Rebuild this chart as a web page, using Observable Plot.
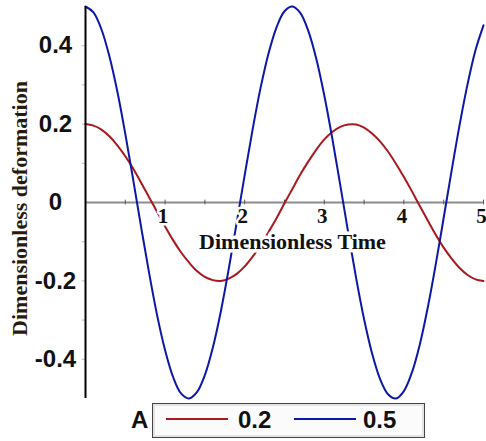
<!DOCTYPE html>
<html>
<head>
<meta charset="utf-8">
<script src="https://cdn.jsdelivr.net/npm/d3@7"></script>
<script src="https://cdn.jsdelivr.net/npm/@observablehq/plot@0.6"></script>
<style>
  body { margin: 0; background: #fff; }
  #chart { width: 486px; }
  .legend { position: relative; width: 486px; height: 41px; font-family: "Liberation Sans", Arial, sans-serif; font-weight: bold; }
  .legend .title { position: absolute; left: 131px; top: 6px; font-size: 24px; line-height: 28px; color: #111; }
  .legend .box { position: absolute; left: 152px; top: 3px; width: 271px; height: 33px; border: 1px solid #444; background: #fbfbfb; box-shadow: inset 0 0 0 2px #e4e4e4; }
  .legend .swatch { position: absolute; top: 14px; height: 2px; width: 62px; }
  .legend .lab { position: absolute; top: 2px; font-size: 24px; line-height: 28px; color: #111; }
</style>
</head>
<body>
<div id="chart"></div>
<script>
// ---- data ----
const times = [0,0.1,0.2,0.3,0.4,0.5,0.6,0.7,0.8,0.9,1.0,1.1,1.2,1.3,1.4,1.5,1.6,1.7,1.8,1.9,2.0,2.1,2.2,2.3,2.4,2.5,2.6,2.7,2.8,2.9,3.0,3.1,3.2,3.3,3.4,3.5,3.6,3.7,3.8,3.9,4.0,4.1,4.2,4.3,4.4,4.5,4.6,4.7,4.8,4.9,5.0];
const seriesA02 = [0.200,0.196,0.186,0.169,0.146,0.118,0.086,0.050,0.013,-0.024,-0.061,-0.096,-0.127,-0.153,-0.175,-0.190,-0.198,-0.200,-0.194,-0.182,-0.163,-0.138,-0.109,-0.075,-0.040,-0.002,0.035,0.072,0.105,0.135,0.161,0.180,0.193,0.199,0.199,0.191,0.176,0.156,0.130,0.099,0.065,0.029,-0.009,-0.046,-0.082,-0.115,-0.143,-0.167,-0.185,-0.196,-0.200];
const seriesA05 = [0.500,0.485,0.442,0.373,0.283,0.175,0.057,-0.064,-0.181,-0.288,-0.377,-0.445,-0.487,-0.500,-0.484,-0.440,-0.370,-0.278,-0.169,-0.051,0.070,0.187,0.293,0.381,0.447,0.488,0.500,0.483,0.437,0.366,0.273,0.164,0.045,-0.076,-0.193,-0.298,-0.385,-0.450,-0.489,-0.500,-0.481,-0.434,-0.362,-0.268,-0.158,-0.039,0.082,0.198,0.302,0.389,0.452];
const seriesNames = ["0.2", "0.5"];
const seriesColors = ["#a8181c", "#0c18a4"];
const xTickValues = [1, 2, 3, 4, 5];
const xTickLabels = ["1", "2", "3", "4", "5"];
const xMinorTicks = [0.5, 1, 1.5, 2, 2.5, 3, 3.5, 4, 4.5, 5];
const yTickValues = [0.4, 0.2, 0, -0.2, -0.4];
const yTickLabels = ["0.4", "0.2", "0", "-0.2", "-0.4"];
const yMinorTicks = [0.4, 0.3, 0.2, 0.1, -0.1, -0.2, -0.3, -0.4];
const xTitle = "Dimensionless Time";
const yTitle = "Dimensionless deformation";
const legendTitle = "A";

// ---- build table ----
const rows = [];
times.forEach((t, i) => {
  rows.push({t, v: seriesA02[i], A: seriesNames[0]});
  rows.push({t, v: seriesA05[i], A: seriesNames[1]});
});

const serif = "'Liberation Serif', 'Times New Roman', serif";
const sans = "'Liberation Sans', Arial, sans-serif";

const chart = Plot.plot({
  width: 486,
  height: 400,
  marginLeft: 85,
  marginRight: 3,
  marginTop: 6,
  marginBottom: 2,
  x: {domain: [0, 5], axis: null},
  y: {domain: [-0.5, 0.5], axis: null},
  color: {domain: seriesNames, range: seriesColors},
  style: {background: "white", overflow: "visible"},
  marks: [
    Plot.ruleY([0], {stroke: "#8c8c8c", strokeWidth: 2}),
    Plot.ruleX(xMinorTicks, {x: d => d, y1: -0.006, y2: 0.006, stroke: "#555", strokeWidth: 1}),
    Plot.ruleY(yMinorTicks, {y: d => d, x1: -0.04, x2: 0, stroke: "#bbb", strokeWidth: 1}),
    Plot.line(rows, {x: "t", y: "v", z: "A", stroke: "A", strokeWidth: 2, curve: "catmull-rom"}),
    Plot.ruleX([0], {stroke: "#000", strokeWidth: 2}),
    Plot.text([xTitle], {
      x: 2.6, y: 0, text: d => d, dy: 39, lineAnchor: "middle",
      fontFamily: serif, fontWeight: "bold", fontSize: 22, fill: "#111",
      stroke: "white", strokeWidth: 7
    }),
    Plot.text(xTickValues, {
      x: d => d, y: 0, text: (d, i) => xTickLabels[i], dx: -2, dy: 14,
      fontFamily: serif, fontWeight: "bold", fontSize: 21, fill: "#111",
      stroke: "white", strokeWidth: 5
    }),
    Plot.text(yTickValues, {
      x: 0, y: d => d, text: (d, i) => yTickLabels[i], dx: -30, textAnchor: "middle",
      fontFamily: sans, fontWeight: "bold", fontSize: 24, fill: "#111"
    }),
    Plot.text([yTitle], {
      frameAnchor: "left", text: d => d, rotate: -90, dx: -66, dy: 6,
      textAnchor: "middle", lineAnchor: "middle",
      fontFamily: serif, fontWeight: "bold", fontSize: 22, fill: "#2a1a0a"
    })
  ]
});
document.getElementById("chart").appendChild(chart);

// ---- legend below the svg ----
const legend = document.createElement("div");
legend.className = "legend";
const title = document.createElement("div");
title.className = "title";
title.textContent = legendTitle;
legend.appendChild(title);
const box = document.createElement("div");
box.className = "box";
seriesNames.forEach((name, i) => {
  const sw = document.createElement("div");
  sw.className = "swatch";
  sw.style.left = (13 + i * 128) + "px";
  sw.style.background = seriesColors[i];
  box.appendChild(sw);
  const lab = document.createElement("div");
  lab.className = "lab";
  lab.style.left = (85 + i * 125) + "px";
  lab.textContent = name;
  box.appendChild(lab);
});
legend.appendChild(box);
document.getElementById("chart").appendChild(legend);
</script>
</body>
</html>
